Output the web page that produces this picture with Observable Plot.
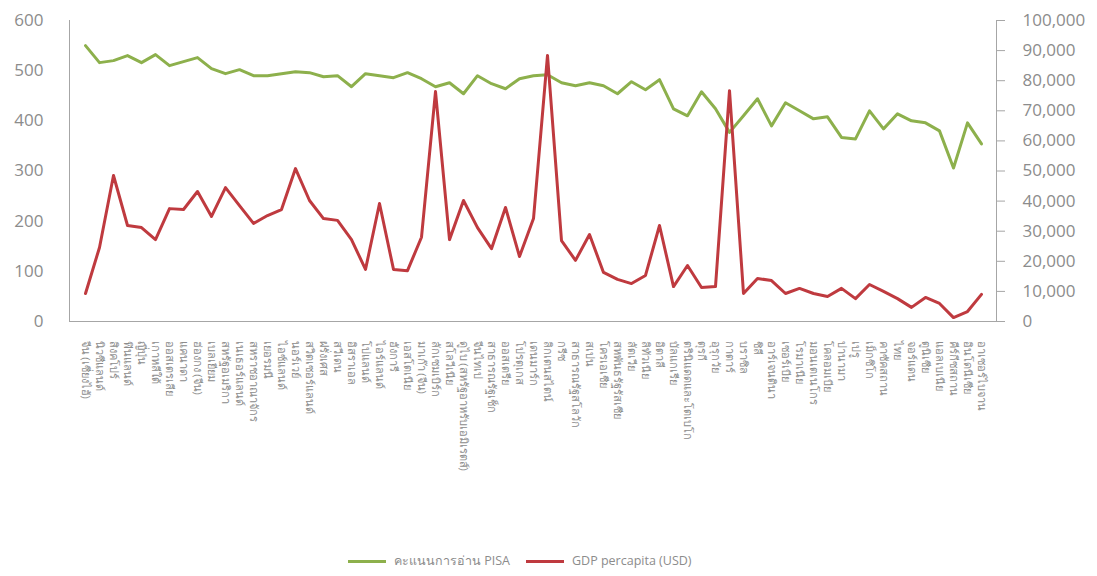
<!DOCTYPE html>
<html>
<head>
<meta charset="utf-8">
<script src="https://cdn.jsdelivr.net/npm/d3@7"></script>
<script src="https://cdn.jsdelivr.net/npm/@observablehq/plot@0.6"></script>
<style>
  html, body { margin: 0; padding: 0; background: #ffffff; }
  #chart { width: 1097px; }
  .legend { margin-top: 12px; margin-left: 348px; height: 18px; line-height: 18px; font-family: "Open Sans", "Noto Sans", sans-serif; font-size: 12.5px; color: #8c8c8c; display: flex; align-items: center; }
  .legend .item { display: flex; align-items: center; margin-right: 16px; }
  .legend .sw { display: inline-block; width: 38px; height: 3px; margin-right: 8px; }
</style>
</head>
<body>
<div id="chart"></div>
<script>
const countries = [
  "จีน (เซี่ยงไฮ้)", "นิวซีแลนด์", "สิงคโปร์", "ฟินแลนด์", "ญี่ปุ่น", "เกาหลีใต้", "ออสเตรเลีย", "แคนาดา",
  "ฮ่องกง (จีน)", "เบลเยียม", "สหรัฐอเมริกา", "เนเธอร์แลนด์", "สหราชอาณาจักร", "เยอรมนี", "ไอซ์แลนด์", "นอร์เวย์",
  "สวิตเซอร์แลนด์", "ฝรั่งเศส", "สวีเดน", "อิสราเอล", "โปแลนด์", "ไอร์แลนด์", "ฮังการี", "เอสโตเนีย",
  "มาเก๊า (จีน)", "ลักเซมเบิร์ก", "สโลวีเนีย", "ดูไบ (สหรัฐอาหรับเอมิเรตส์)", "จีนไทเป", "สาธารณรัฐเช็ก", "ออสเตรีย", "โปรตุเกส",
  "เดนมาร์ก", "ลิกเตนสไตน์", "กรีซ", "สาธารณรัฐสโลวัก", "สเปน", "โครเอเชีย", "สหพันธรัฐรัสเซีย", "ลัตเวีย",
  "ลิทัวเนีย", "อิตาลี", "บัลแกเรีย", "ตรินิแดดและโตเบโก", "ตุรกี", "อุรุกวัย", "กาตาร์", "บราซิล",
  "ชิลี", "อาร์เจนตินา", "เซอร์เบีย", "โรมาเนีย", "มอนเตเนโกร", "โคลอมเบีย", "ปานามา", "เปรู",
  "เม็กซิโก", "คาซัคสถาน", "ไทย", "จอร์แดน", "ตูนิเซีย", "แอลเบเนีย", "คีร์กีซสถาน", "อินโดนีเซีย", "อาเซอร์ไบจาน"
];
const pisaReading = [
  550, 516, 520, 530, 516, 532, 510, 518, 526, 504, 494, 502, 490, 490, 494, 498,
  496, 488, 490, 468, 494, 490, 486, 496, 484, 468, 476, 454, 490, 474, 464, 484,
  490, 492, 476, 470, 476, 470, 454, 478, 462, 482, 424, 410, 458, 424, 377, 410,
  444, 390, 436, 420, 404, 408, 367, 364, 420, 384, 414, 400, 396, 380, 306, 396, 354
];
const gdpPerCapita = [
  9300, 24600, 48500, 31900, 31200, 27200, 37500, 37200, 43200, 34900, 44500, 38500, 32600, 35200, 37200, 50800,
  40200, 34200, 33600, 27200, 17300, 39200, 17300, 16900, 28000, 76400, 27200, 40200, 31200, 24200, 37900, 21600,
  34200, 88400, 26900, 20300, 28900, 16300, 14000, 12600, 15300, 31900, 11600, 18600, 11300, 11600, 76700, 9300,
  14300, 13600, 9300, 11000, 9300, 8300, 11000, 7600, 12300, 10000, 7600, 4700, 8000, 6000, 1300, 3300, 9000
];
const leftTicks = [0, 100, 200, 300, 400, 500, 600];
const rightTicks = [0, 10000, 20000, 30000, 40000, 50000, 60000, 70000, 80000, 90000, 100000];
const seriesNames = ["คะแนนการอ่าน PISA", "GDP percapita (USD)"];
const seriesColors = ["#8db04c", "#bf3a3f"];

const leftMax = 600, rightMax = 100000;
const k = leftMax / rightMax;
const data = countries.map((c, i) => ({country: c, pisa: pisaReading[i], gdp: gdpPerCapita[i]}));

const axisColor = "#a6a6a6";
const labelColor = "#8c8c8c";

const chart = Plot.plot({
  width: 1097,
  height: 540,
  marginLeft: 69,
  marginRight: 101,
  marginTop: 20,
  marginBottom: 219,
  style: {fontFamily: "'Open Sans', 'Noto Sans', sans-serif", background: "transparent"},
  x: {type: "point", domain: countries, padding: 0.5},
  y: {domain: [0, leftMax]},
  marks: [
    Plot.axisY({anchor: "left", ticks: leftTicks, tickSize: 0, tickPadding: 26, label: null, fontSize: 17, color: labelColor}),
    Plot.axisY({anchor: "right", ticks: rightTicks.map(v => v * k), tickFormat: v => d3.format(",")(Math.round(v / k)),
      tickSize: 8, tickPadding: 18, label: null, fontSize: 17, color: labelColor, stroke: axisColor}),
    Plot.axisX({tickRotate: 90, tickSize: 0, tickPadding: 19, label: null, fontSize: 11, color: labelColor}),
    Plot.frame({anchor: "left", stroke: axisColor}),
    Plot.frame({anchor: "right", stroke: axisColor}),
    Plot.ruleY([0], {stroke: axisColor}),
    Plot.line(data, {x: "country", y: "pisa", stroke: seriesColors[0], strokeWidth: 3}),
    Plot.line(data, {x: "country", y: d => d.gdp * k, stroke: seriesColors[1], strokeWidth: 3})
  ]
});
document.getElementById("chart").appendChild(chart);

const legend = document.createElement("div");
legend.className = "legend";
seriesNames.forEach((name, i) => {
  const item = document.createElement("span");
  item.className = "item";
  const sw = document.createElement("span");
  sw.className = "sw";
  sw.style.background = seriesColors[i];
  item.appendChild(sw);
  item.appendChild(document.createTextNode(name));
  legend.appendChild(item);
});
document.body.appendChild(legend);
</script>
</body>
</html>
